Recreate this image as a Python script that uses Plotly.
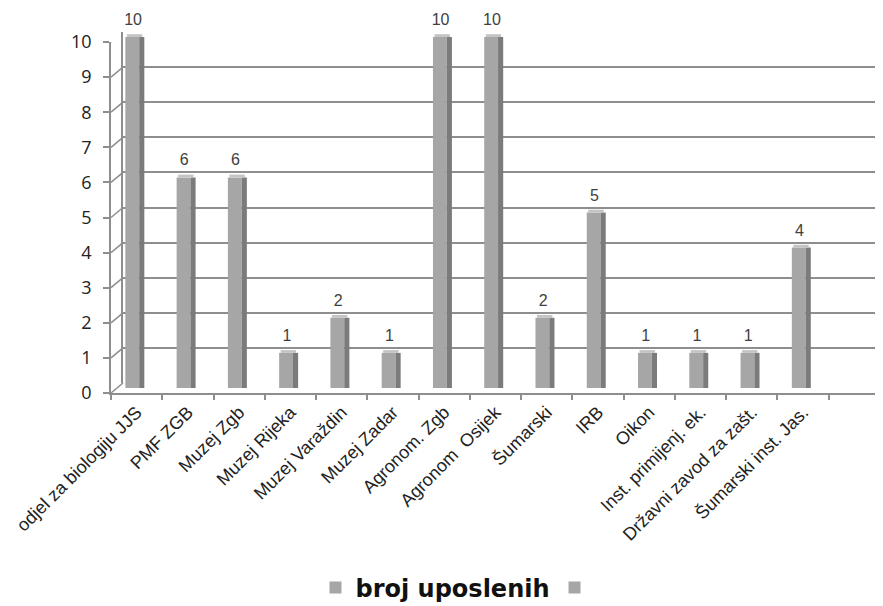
import plotly.graph_objects as go

categories = ["odjel za biologiju JJS", "PMF ZGB", "Muzej Zgb", "Muzej Rijeka",
              "Muzej Varaždin", "Muzej Zadar", "Agronom. Zgb", "Agronom  Osijek",
              "Šumarski", "IRB", "Oikon", "Inst. primijenj. ek.",
              "Državni zavod za zašt.", "Šumarski inst. Jas.", " "]
values = [10, 6, 6, 1, 2, 1, 10, 10, 2, 5, 1, 1, 1, 4, None]
labels = [str(v) if v is not None else "" for v in values]
y_ticks = list(range(0, 11))
series_name = "broj uposlenih"

# page body has an 8px margin; compensate so the chart sits like the reference
W, H = 875, 598
ML, MR, MT, MB = 103, 0, 0, 213
PW = W - ML - MR
PH = H - MT - MB          # plot area: page y 8 .. 393
front_w = 769
dx, dy = 12, 10
front_top = 34            # fig px from plot top to front tick "10"
pxu = (PH - front_top) / 10.0

grid_col = "#8e8e8e"
front_col = "#a6a6a6"
side_col = "#7b7b7b"
top_col = "#c4c4c4"

fig = go.Figure()

# back-wall gridlines carrier
fig.add_trace(go.Scatter(x=[categories[0]], y=[0], xaxis="x2", yaxis="y2",
                         mode="markers", marker=dict(opacity=0), showlegend=False,
                         hoverinfo="skip"))

fig.add_trace(go.Bar(x=categories, y=values, xaxis="x3", yaxis="y3",
                     name=series_name, marker=dict(color=front_col, line=dict(width=0)),
                     width=0.27, offset=-0.22, showlegend=False, hoverinfo="x+y"))
fig.add_trace(go.Bar(x=categories, y=values, xaxis="x3", yaxis="y3",
                     name="side", marker=dict(color=side_col, line=dict(width=0)),
                     width=0.1, offset=0.05, showlegend=False, hoverinfo="skip"))
fig.add_trace(go.Bar(x=categories, y=[0.08 if v is not None else None for v in values],
                     base=values, xaxis="x3", yaxis="y3",
                     name="top", marker=dict(color=top_col, line=dict(width=0)),
                     width=0.3, offset=-0.19, showlegend=False, hoverinfo="skip"))
# value labels
fig.add_trace(go.Scatter(x=categories, y=values, xaxis="x4", yaxis="y4",
                         mode="text", text=labels, textposition="middle center",
                         textfont=dict(family="Liberation Sans", size=16, color="#404040"),
                         cliponaxis=False, showlegend=False, hoverinfo="skip"))
# front axes carrier
fig.add_trace(go.Scatter(x=[categories[0]], y=[0], xaxis="x", yaxis="y",
                         mode="markers", marker=dict(opacity=0), showlegend=False,
                         hoverinfo="skip"))
# legend entries
fig.add_trace(go.Scatter(x=[None], y=[None], xaxis="x", yaxis="y", mode="markers",
                         name=series_name,
                         marker=dict(symbol="square", size=15, color=front_col)))
fig.add_trace(go.Scatter(x=[None], y=[None], xaxis="x", yaxis="y", mode="markers",
                         name=" ",
                         marker=dict(symbol="square", size=15, color=front_col)))

xr = [-0.5, len(categories) - 0.5]
slot = front_w / len(categories)
lab_dx = 3.6 / slot
lab_dy = 16 / pxu
mid = dy / 2
top3 = (PH - mid) / pxu   # range top of the mid-depth axis spanning to plot top
hid = dict(showticklabels=False, showgrid=False, showline=False, ticks="",
           automargin=False, zeroline=False)
fig.update_layout(
    width=W, height=H,
    margin=dict(l=ML, r=MR, t=MT, b=MB, autoexpand=False),
    paper_bgcolor="white", plot_bgcolor="rgba(0,0,0,0)",
    barmode="overlay",
    xaxis=dict(domain=[0, front_w / PW], range=xr, type="category",
               categoryorder="array", categoryarray=categories,
               tickson="boundaries", ticks="outside", ticklen=5, tickcolor=grid_col,
               tickwidth=1.5, showline=True, linecolor=grid_col, linewidth=1.5,
               showgrid=False, tickangle=-45, automargin=False, zeroline=False,
               tickfont=dict(family="Liberation Sans", size=18, color="#222222"),
               anchor="y"),
    yaxis=dict(domain=[0, (PH - front_top) / PH], range=[0, 10], tickvals=y_ticks,
               ticks="outside", ticklen=6, tickcolor=grid_col, tickwidth=1.5,
               showline=True, linecolor=grid_col, linewidth=1.5, showgrid=False,
               zeroline=False, automargin=False, ticklabelstandoff=8,
               tickfont=dict(family="Open Sans", size=18, color="#222222"),
               anchor="x"),
    xaxis2=dict(domain=[dx / PW, 1], range=xr, type="category",
                categoryorder="array", categoryarray=categories,
                anchor="y2", **hid),
    yaxis2=dict(domain=[dy / PH, (PH - front_top + dy) / PH], range=[0, 10],
                tickvals=y_ticks,
                showticklabels=False, showgrid=True, gridcolor=grid_col, gridwidth=1.5,
                showline=True, linecolor=grid_col, linewidth=1.5, ticks="",
                automargin=False, zeroline=False, anchor="x2"),
    xaxis3=dict(domain=[0, front_w / PW], range=xr, type="category",
                categoryorder="array", categoryarray=categories,
                anchor="y3", **hid),
    yaxis3=dict(domain=[mid / PH, 1], range=[0, top3], anchor="x3", **hid),
    xaxis4=dict(domain=[0, front_w / PW], range=[xr[0] + lab_dx, xr[1] + lab_dx],
                type="category", categoryorder="array", categoryarray=categories,
                anchor="y4", **hid),
    yaxis4=dict(domain=[mid / PH, 1], range=[-lab_dy, top3 - lab_dy],
                anchor="x4", **hid),
    legend=dict(orientation="h", xref="container", yref="container",
                x=454 / W, y=1 - 580 / H, xanchor="center", yanchor="middle",
                itemsizing="constant",
                font=dict(family="DejaVu Sans", size=24, color="#111111",
                          weight="bold")),
    showlegend=True,
)

shapes = []
for v in y_ticks:
    shapes.append(dict(type="line", xref="paper", yref="y",
                       xsizemode="pixel", xanchor=0, x0=0, x1=dx,
                       ysizemode="pixel", yanchor=v, y0=0, y1=dy,
                       line=dict(color=grid_col, width=1.5)))
shapes.append(dict(type="line", xref="paper", yref="y",
                   xsizemode="pixel", xanchor=front_w / PW, x0=0, x1=dx,
                   ysizemode="pixel", yanchor=0, y0=0, y1=dy,
                   line=dict(color=grid_col, width=1.5)))
fig.update_layout(shapes=shapes)

fig.write_html("out.html")
